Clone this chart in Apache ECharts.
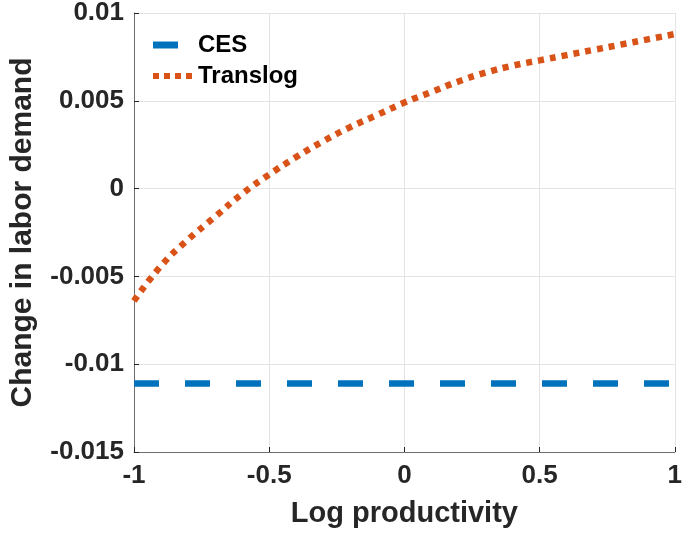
<!DOCTYPE html>
<html>
<head>
<meta charset="utf-8">
<script src="https://cdn.jsdelivr.net/npm/echarts@6/dist/echarts.min.js"></script>
<style>html,body{margin:0;padding:0;background:#fff}#c{width:685px;height:533px}</style>
</head>
<body>
<div id="c"></div>
<script>
const xValues = [-1, -0.9, -0.8, -0.7, -0.6, -0.5, -0.4, -0.3, -0.2, -0.1, 0, 0.1, 0.2, 0.3, 0.4, 0.5, 0.6, 0.7, 0.8, 0.9, 1];
const cesValues = [-0.0111, -0.0111, -0.0111, -0.0111, -0.0111, -0.0111, -0.0111, -0.0111, -0.0111, -0.0111, -0.0111, -0.0111, -0.0111, -0.0111, -0.0111, -0.0111, -0.0111, -0.0111, -0.0111, -0.0111, -0.0111];
const translogValues = [-0.0064, -0.0044, -0.0029, -0.0016, -0.0003, 0.0008, 0.0018, 0.0027, 0.0035, 0.0042, 0.0049, 0.0055, 0.0061, 0.0066, 0.0070, 0.0073, 0.0076, 0.0079, 0.0082, 0.0085, 0.0088];
const seriesNames = ['CES', 'Translog'];
const xTitle = 'Log productivity';
const yTitle = 'Change in labor demand';

const chart = echarts.init(document.getElementById('c'), null, {renderer: 'canvas'});
const font = 'Liberation Sans, Arial, Helvetica, sans-serif';
const legendText = {fontFamily: font, fontWeight: 'bold', fontSize: 24, color: '#000'};
chart.setOption({
  animation: false,
  backgroundColor: '#fff',
  grid: {left: 130, right: 4, top: 11.5, bottom: 80.5, containLabel: false},
  legend: [
    {
      orient: 'vertical', left: 148, top: 28, itemWidth: 25, itemHeight: 7,
      textStyle: Object.assign({padding: [0, 0, 0, 15]}, legendText),
      data: [{name: seriesNames[0], icon: 'rect'}]
    },
    {
      orient: 'vertical', left: 148, top: 59, itemWidth: 39, itemHeight: 6,
      textStyle: Object.assign({padding: [0, 0, 0, 1]}, legendText),
      data: [{name: seriesNames[1], icon: 'path://M0,0h6v6h-6z M11,0h6v6h-6z M22,0h6v6h-6z M33,0h6v6h-6z'}]
    }
  ],
  xAxis: {
    type: 'value', min: -1, max: 1, interval: 0.5,
    name: xTitle, nameLocation: 'middle', nameGap: 47,
    nameTextStyle: {fontFamily: font, fontWeight: 'bold', fontSize: 29, color: '#262626'},
    axisLine: {show: true, onZero: false, lineStyle: {color: '#6e6e6e', width: 1}},
    axisTick: {show: true, inside: true, length: 5, lineStyle: {color: '#262626'}},
    axisLabel: {fontFamily: font, fontWeight: 'bold', fontSize: 26, color: '#262626', margin: 11},
    splitLine: {show: true, lineStyle: {color: '#e3e3e3', width: 1}}
  },
  yAxis: {
    type: 'value', min: -0.015, max: 0.01, interval: 0.005,
    name: yTitle, nameLocation: 'middle', nameGap: 96, nameRotate: 90,
    nameTextStyle: {fontFamily: font, fontWeight: 'bold', fontSize: 30, color: '#262626'},
    axisLine: {show: true, onZero: false, lineStyle: {color: '#6e6e6e', width: 1}},
    axisTick: {show: true, inside: true, length: 5, lineStyle: {color: '#262626'}},
    axisLabel: {fontFamily: font, fontWeight: 'bold', fontSize: 26, color: '#262626', margin: 10},
    splitLine: {show: true, lineStyle: {color: '#e3e3e3', width: 1}}
  },
  series: [
    {
      name: seriesNames[0], type: 'line', showSymbol: false, symbol: 'none',
      data: xValues.map((x, i) => [x, cesValues[i]]),
      itemStyle: {color: '#0072BD'},
      lineStyle: {color: '#0072BD', width: 6.5, type: [25, 26], cap: 'butt'}
    },
    {
      name: seriesNames[1], type: 'line', showSymbol: false, symbol: 'none', smooth: true,
      data: xValues.map((x, i) => [x, translogValues[i]]),
      itemStyle: {color: '#D95319'},
      lineStyle: {color: '#D95319', width: 6.5, type: [6, 6], cap: 'butt'}
    }
  ]
});
</script>
</body>
</html>
